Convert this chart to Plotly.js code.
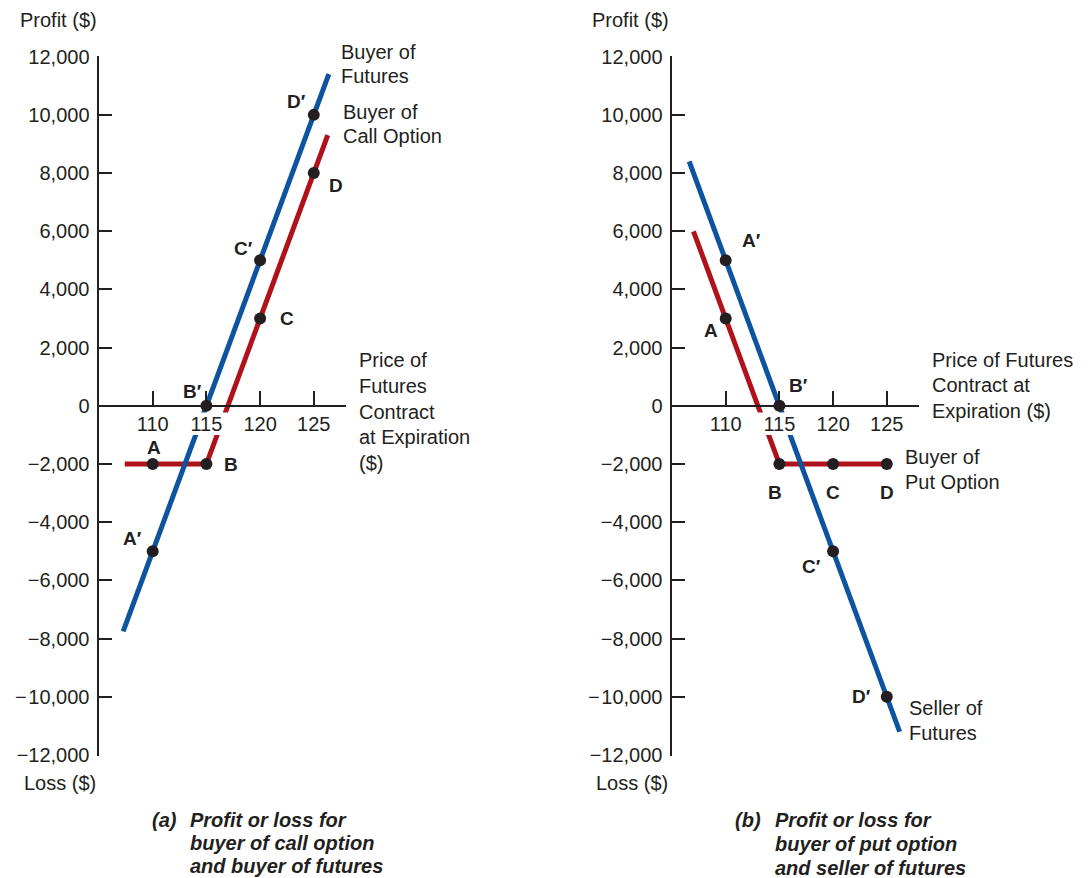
<!DOCTYPE html>
<html>
<head>
<meta charset="utf-8">
<script src="https://cdn.plot.ly/plotly-3.0.1.min.js"></script>
<style>html,body{margin:0;padding:0;background:#fff;}#chart{width:1092px;height:878px;}</style>
</head>
<body>
<div id="chart"></div>
<script>
// ---------- data ----------
const xTickVals = [110, 115, 120, 125];
const xTickText = ['110', '115', '120', '125'];
const yTickVals = [12000, 10000, 8000, 6000, 4000, 2000, 0, -2000, -4000, -6000, -8000, -10000, -12000];
const yTickText = ['12,000', '10,000', '8,000', '6,000', '4,000', '2,000', '0', '\u22122,000', '\u22124,000', '\u22126,000', '\u22128,000', '\u2212\u200a10,000', '\u221212,000'];

// Panel (a)
const futuresBuyerPrice = [107.25, 126.4];
const futuresBuyerProfit = [-7750, 11400];
const callBuyerPrice = [107.4, 115, 126.3];
const callBuyerProfit = [-2000, -2000, 9300];
const pointPrices = [110, 115, 120, 125];
const callBuyerPoints = [-2000, -2000, 3000, 8000];
const futuresBuyerPoints = [-5000, 0, 5000, 10000];
const callLabels = ['A', 'B', 'C', 'D'];
const futuresBuyerLabels = ['A\u2032', 'B\u2032', 'C\u2032', 'D\u2032'];

// Panel (b)
const futuresSellerPrice = [106.6, 126.2];
const futuresSellerProfit = [8400, -11200];
const putBuyerPrice = [107, 115, 125];
const putBuyerProfit = [6000, -2000, -2000];
const putBuyerPoints = [3000, -2000, -2000, -2000];
const futuresSellerPoints = [5000, 0, -5000, -10000];
const putLabels = ['A', 'B', 'C', 'D'];
const futuresSellerLabels = ['A\u2032', 'B\u2032', 'C\u2032', 'D\u2032'];

// ---------- styles / layout helpers ----------
const W = 1092, H = 878;
const BLUE = '#0c53a0', RED = '#b0121b', INK = '#231f20';
const FONT = 'Liberation Sans, Arial, Helvetica, sans-serif';
const px = v => v / W;
const py = v => 1 - v / H;
const yRange = [-12030, 12030];
const yDom = [1 - 755.9 / H, 1 - 55.8 / H];
const xDomL = [px(99), px(346)];
const xDomR = [px(672), px(919)];
const xRange = [105, 128];
const zeroPos = yDom[0] + (0 - yRange[0]) / (yRange[1] - yRange[0]) * (yDom[1] - yDom[0]);

// label offsets (pixels) relative to each point
const callOff = [[1, 17], [25, 0], [27, 0], [22, -12]];
const futBuyOff = [[-20, 13], [-14, 14], [-17, 12], [-17, 13]];
const putOff = [[-15, -12], [-4, -28], [0, -28], [0, -28]];
const futSellOff = [[26, 20], [19, 20], [-22, -15], [-25, 0]];

// white box behind tick label "115" (gap in lines, as in the original)
const gapTick = 115;
const gapBox = (xa, ya) => ({
  x: [gapTick - 2.1, gapTick + 2.0, gapTick + 2.0, gapTick - 2.1, gapTick - 2.1],
  y: [-230, -230, -1000, -1000, -230],
  xaxis: xa, yaxis: ya, mode: 'lines', fill: 'toself', fillcolor: '#ffffff',
  line: {width: 0, color: 'rgba(0,0,0,0)'}, hoverinfo: 'skip', showlegend: false
});

const lineTrace = (x, y, color, xa, ya) => ({
  x, y, xaxis: xa, yaxis: ya, mode: 'lines',
  line: {color, width: 5}, hoverinfo: 'skip', showlegend: false
});
const dotTrace = (x, y, xa, ya) => ({
  x, y, xaxis: xa, yaxis: ya, mode: 'markers',
  marker: {color: INK, size: 12}, hoverinfo: 'skip', showlegend: false, cliponaxis: false
});

const traces = [
  lineTrace(callBuyerPrice, callBuyerProfit, RED, 'x', 'y'),
  lineTrace(futuresBuyerPrice, futuresBuyerProfit, BLUE, 'x', 'y'),
  gapBox('x', 'y'),
  dotTrace(pointPrices, callBuyerPoints, 'x', 'y'),
  dotTrace(pointPrices, futuresBuyerPoints, 'x', 'y'),
  lineTrace(putBuyerPrice, putBuyerProfit, RED, 'x2', 'y2'),
  lineTrace(futuresSellerPrice, futuresSellerProfit, BLUE, 'x2', 'y2'),
  gapBox('x2', 'y2'),
  dotTrace(pointPrices, putBuyerPoints, 'x2', 'y2'),
  dotTrace(pointPrices, futuresSellerPoints, 'x2', 'y2')
];

const xAxisBase = (dom) => ({
  domain: dom, range: xRange, anchor: 'free', position: zeroPos,
  showgrid: false, zeroline: false, showline: true, linecolor: INK, linewidth: 2.5,
  ticks: 'inside', ticklen: 14, tickwidth: 2, tickcolor: INK,
  tickmode: 'array', tickvals: xTickVals, ticktext: xTickText,
  tickfont: {family: FONT, size: 20, color: INK}, ticklabelstandoff: 0,
  fixedrange: true, layer: 'above traces'
});
const yAxisBase = (anchorX) => ({
  domain: yDom, range: yRange, anchor: anchorX,
  showgrid: false, zeroline: false, showline: true, linecolor: INK, linewidth: 2.5,
  ticks: 'inside', ticklen: 13, tickwidth: 2, tickcolor: INK,
  tickmode: 'array', tickvals: yTickVals, ticktext: yTickText,
  tickfont: {family: FONT, size: 20, color: INK}, ticklabelstandoff: 3,
  fixedrange: true, layer: 'above traces'
});

const annotations = [];
const txt = (text, x, y, opts = {}) => annotations.push(Object.assign({
  text, x: px(x), y: py(y), xref: 'paper', yref: 'paper', showarrow: false,
  xanchor: 'left', yanchor: 'middle', align: 'left',
  font: {family: FONT, size: 20, color: INK}
}, opts));
// multi-line text block: one annotation per line, centres at y0, y0+gap, ...
const block = (lines, x, y0, gap, opts = {}) => lines.forEach((l, i) => txt(l, x, y0 + i * gap, opts));

const pointLabels = (labels, yVals, offs, xa, ya) => {
  labels.forEach((t, i) => annotations.push({
    text: '<b>' + t + '</b>', x: pointPrices[i], y: yVals[i], xref: xa, yref: ya,
    xshift: offs[i][0], yshift: offs[i][1], showarrow: false,
    xanchor: 'center', yanchor: 'middle',
    font: {family: FONT, size: 19, color: INK}
  }));
};
pointLabels(callLabels, callBuyerPoints, callOff, 'x', 'y');
pointLabels(futuresBuyerLabels, futuresBuyerPoints, futBuyOff, 'x', 'y');
pointLabels(putLabels, putBuyerPoints, putOff, 'x2', 'y2');
pointLabels(futuresSellerLabels, futuresSellerPoints, futSellOff, 'x2', 'y2');

// axis captions
txt('Profit ($)', 58, 20, {xanchor: 'center'});
txt('Loss ($)', 60, 783, {xanchor: 'center'});
txt('Profit ($)', 630, 20, {xanchor: 'center'});
txt('Loss ($)', 632, 783, {xanchor: 'center'});

// series & axis labels
block(['Buyer of', 'Futures'], 339, 52, 24);
block(['Buyer of', 'Call Option'], 341, 112, 24);
block(['Price of', 'Futures', 'Contract', 'at Expiration', '($)'], 357, 360, 25.8);
block(['Price of Futures', 'Contract at', 'Expiration ($)'], 930, 360, 25.5);
block(['Buyer of', 'Put Option'], 903, 457, 24.5);
block(['Seller of', 'Futures'], 907, 708, 25);

// panel captions
const capOpts = {font: {family: FONT, size: 20, color: INK}};
txt('<b><i>(a)</i></b>', 150, 820, capOpts);
block(['<b><i>Profit or loss for</i></b>', '<b><i>buyer of call option</i></b>', '<b><i>and buyer of futures</i></b>'], 188, 820, 23, capOpts);
txt('<b><i>(b)</i></b>', 733, 820, capOpts);
block(['<b><i>Profit or loss for</i></b>', '<b><i>buyer of put option</i></b>', '<b><i>and seller of futures</i></b>'], 773, 820, 24, capOpts);

const layout = {
  width: W, height: H,
  margin: {l: 0, r: 0, t: 0, b: 0, pad: 0},
  paper_bgcolor: '#ffffff', plot_bgcolor: 'rgba(0,0,0,0)',
  showlegend: false, hovermode: false,
  font: {family: FONT, color: INK},
  xaxis: xAxisBase(xDomL),
  yaxis: yAxisBase('x'),
  xaxis2: xAxisBase(xDomR),
  yaxis2: yAxisBase('x2'),
  annotations
};

Plotly.newPlot('chart', traces, layout, {displayModeBar: false, staticPlot: true});
</script>
</body>
</html>
